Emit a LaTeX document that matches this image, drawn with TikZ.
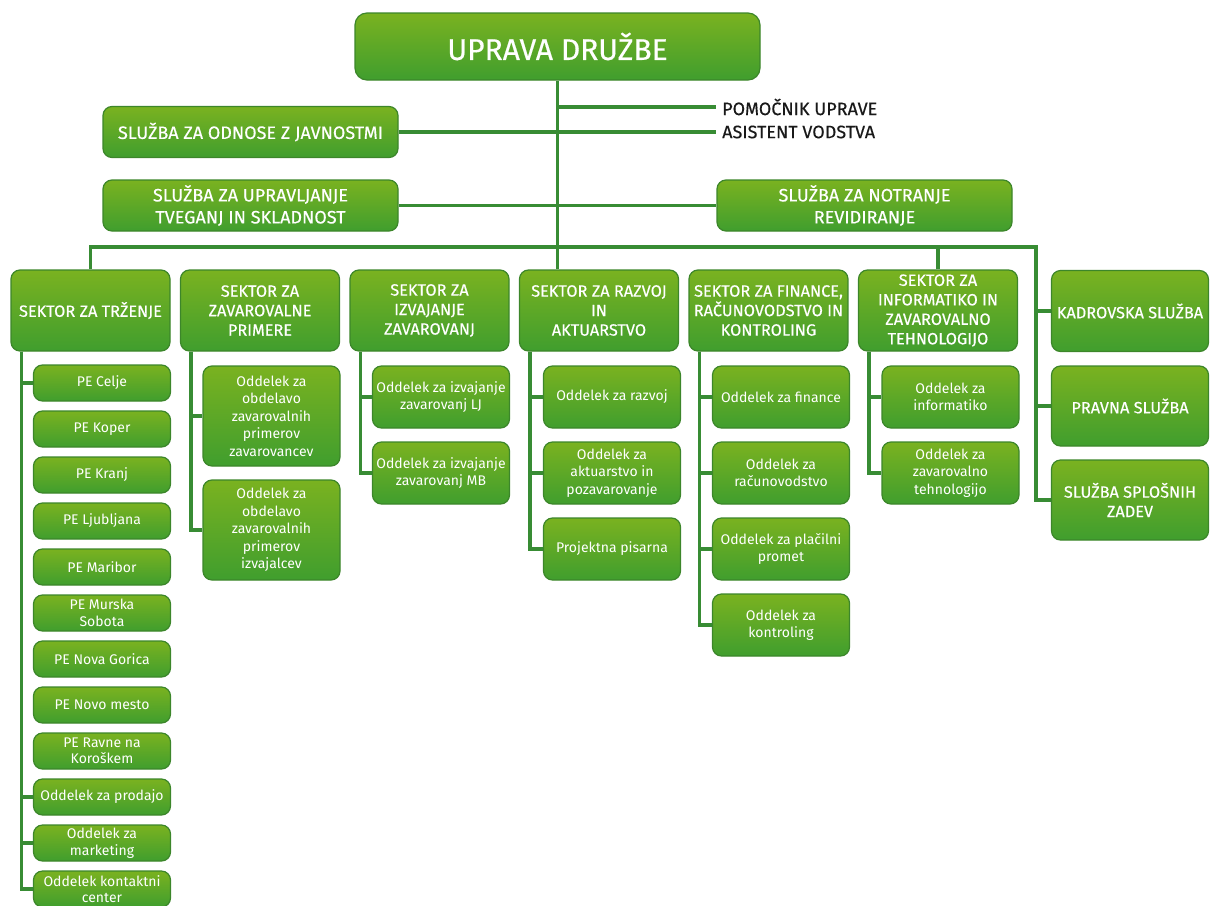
\documentclass[tikz,border=0pt]{standalone}
\usepackage{fontspec}
\setmainfont{Fira Sans}
\newfontfamily\headfont[FakeBold=0.4]{Fira Sans}
\usetikzlibrary{positioning}
\definecolor{gtop}{RGB}{122,178,32}
\definecolor{gbot}{RGB}{64,158,46}
\definecolor{grob}{RGB}{60,134,42}
\definecolor{glink}{RGB}{56,140,52}

\begin{document}
\begin{tikzpicture}[x=1pt, y=1pt, node distance=8.8pt,
        box/.style={rectangle, draw=grob, line width=1.2pt, top color=gtop, bottom color=gbot, text=white, align=center, rounded corners=9pt, inner sep=2pt},
        uprava/.style={box, font=\headfont\fontsize{30}{34}\selectfont, minimum width=405pt, minimum height=67pt, rounded corners=12pt},
        sluzba/.style={box, font=\headfont\fontsize{18}{22}\selectfont, minimum width=295pt, minimum height=51pt},
        sektor/.style={box, font=\headfont\fontsize{16.3}{19.5}\selectfont, minimum width=159pt, minimum height=81pt},
        oddelek/.style={box, font=\fontsize{14}{17.5}\selectfont, minimum width=137pt, minimum height=62pt},
        enota/.style={oddelek, font=\fontsize{14}{16.5}\selectfont, minimum height=36pt},
        oznaka/.style={font=\headfont\fontsize{18}{20}\selectfont, text=black!90, inner sep=6pt},
        line/.style={draw=glink, line width=3.5pt}]

        \useasboundingbox (0,0) rectangle (1210,-905);

        % vodstvo
        \node [uprava] (up) at (557.5,-46.5) {UPRAVA DRUŽBE};
        \node [sluzba] (odnosi) at (250.5,-132) {SLUŽBA ZA ODNOSE Z JAVNOSTMI};
        \node [sluzba] (tveganja) at (250.5,-205.5) {SLUŽBA ZA UPRAVLJANJE\\TVEGANJ IN SKLADNOST};
        \node [sluzba] (revizija) at (864.5,-205.5) {SLUŽBA ZA NOTRANJE\\REVIDIRANJE};
        \node [oznaka, anchor=west] (pomocnik) at (716,-107) {POMOČNIK UPRAVE};
        \node [oznaka, anchor=west] (asistent) at (716,-132) {ASISTENT VODSTVA};

        % sektorji
        \node [sektor] (s1) at (90.5,-310.5) {SEKTOR ZA TRŽENJE};
        \node [sektor, right=9.3pt of s1] (s2) {SEKTOR ZA\\ZAVAROVALNE\\PRIMERE};
        \node [sektor, right=9.3pt of s2] (s3) {SEKTOR ZA\\IZVAJANJE\\ZAVAROVANJ};
        \node [sektor, right=9.3pt of s3] (s4) {SEKTOR ZA RAZVOJ\\IN\\AKTUARSTVO};
        \node [sektor, right=9.3pt of s4] (s5) {SEKTOR ZA FINANCE,\\RAČUNOVODSTVO IN\\KONTROLING};
        \node [sektor, right=9.3pt of s5] (s6) {SEKTOR ZA\\INFORMATIKO IN\\ZAVAROVALNO\\TEHNOLOGIJO};

        \node [sektor, minimum width=157pt] (kadri) at (1130,-311) {KADROVSKA SLUŽBA};
        \node [sektor, minimum width=157pt, minimum height=80pt] (pravna) at (1130,-406) {PRAVNA SLUŽBA};
        \node [sektor, minimum width=157pt, minimum height=80pt] (splosne) at (1130,-500) {SLUŽBA SPLOŠNIH\\ZADEV};

        % trzenje
        \node [enota] (pe1) at (102,-383) {PE Celje};
        \node [enota, below=of pe1] (pe2) {PE Koper};
        \node [enota, below=of pe2] (pe3) {PE Kranj};
        \node [enota, below=of pe3] (pe4) {PE Ljubljana};
        \node [enota, below=of pe4] (pe5) {PE Maribor};
        \node [enota, below=of pe5] (pe6) {PE Murska\\Sobota};
        \node [enota, below=of pe6] (pe7) {PE Nova Gorica};
        \node [enota, below=of pe7] (pe8) {PE Novo mesto};
        \node [enota, below=of pe8] (pe9) {PE Ravne na\\Koroškem};
        \node [enota, below=of pe9] (tr1) {Oddelek za prodajo};
        \node [enota, below=of tr1] (tr2) {Oddelek za\\marketing};
        \node [enota, below=of tr2] (tr3) {Oddelek kontaktni\\center};

        % zavarovalni primeri
        \node [oddelek, minimum height=100pt] (zp1) at (271.5,-416) {Oddelek za\\obdelavo\\zavarovalnih\\primerov\\zavarovancev};
        \node [oddelek, minimum height=100pt, below=12.8pt of zp1] (zp2) {Oddelek za\\obdelavo\\zavarovalnih\\primerov\\izvajalcev};

        % izvajanje
        \node [oddelek] (iz1) at (441,-397) {Oddelek za izvajanje\\zavarovanj LJ};
        \node [oddelek, below=12.8pt of iz1] (iz2) {Oddelek za izvajanje\\zavarovanj MB};

        % razvoj
        \node [oddelek] (rz1) at (612,-397) {Oddelek za razvoj};
        \node [oddelek, below=12.8pt of rz1] (rz2) {Oddelek za\\aktuarstvo in\\pozavarovanje};
        \node [oddelek, below=12.8pt of rz2] (rz3) {Projektna pisarna};

        % finance
        \node [oddelek] (fi1) at (781,-397) {Oddelek za finance};
        \node [oddelek, below=12.8pt of fi1] (fi2) {Oddelek za\\računovodstvo};
        \node [oddelek, below=12.8pt of fi2] (fi3) {Oddelek za plačilni\\promet};
        \node [oddelek, below=12.8pt of fi3] (fi4) {Oddelek za\\kontroling};

        % informatika
        \node [oddelek] (in1) at (950.5,-397) {Oddelek za\\informatiko};
        \node [oddelek, below=12.8pt of in1] (in2) {Oddelek za\\zavarovalno\\tehnologijo};

        \coordinate (desno) at (1036,-247);

        \path [line] (up.south) -- (up.south |- s4.north);
        \path [line] (up.south |- pomocnik.west) -- (pomocnik.west);
        \path [line] (odnosi.east) -- (asistent.west);
        \path [line] (tveganja.east) -- (revizija.west);
        \path [line] (s1.north) |- (desno) |- (splosne.west);
        \path [line] (desno |- kadri.west) -- (kadri.west);
        \path [line] (desno |- pravna.west) -- (pravna.west);
        \path [line] (s6.north) -- (s6.north |- desno);

        \path [line] ([xshift=11pt]s1.south west) |- (pe1.west);
        \path [line] ([xshift=11pt]s1.south west) |- (tr1.west);
        \path [line] ([xshift=11pt]s1.south west) |- (tr2.west);
        \path [line] ([xshift=11pt]s1.south west) |- (tr3.west);
        \path [line] ([xshift=11pt]s2.south west) |- (zp1.west);
        \path [line] ([xshift=11pt]s2.south west) |- (zp2.west);
        \path [line] ([xshift=11pt]s3.south west) |- (iz1.west);
        \path [line] ([xshift=11pt]s3.south west) |- (iz2.west);
        \path [line] ([xshift=11pt]s4.south west) |- (rz1.west);
        \path [line] ([xshift=11pt]s4.south west) |- (rz2.west);
        \path [line] ([xshift=11pt]s4.south west) |- (rz3.west);
        \path [line] ([xshift=11pt]s5.south west) |- (fi1.west);
        \path [line] ([xshift=11pt]s5.south west) |- (fi2.west);
        \path [line] ([xshift=11pt]s5.south west) |- (fi3.west);
        \path [line] ([xshift=11pt]s5.south west) |- (fi4.west);
        \path [line] ([xshift=11pt]s6.south west) |- (in1.west);
        \path [line] ([xshift=11pt]s6.south west) |- (in2.west);
    \end{tikzpicture}
\end{document}
